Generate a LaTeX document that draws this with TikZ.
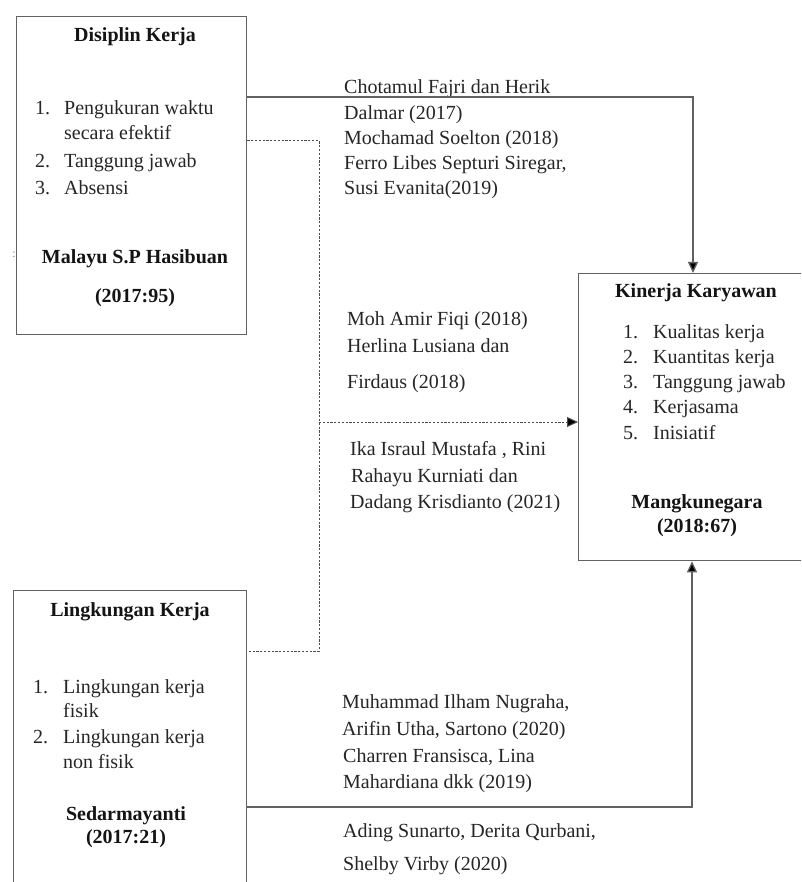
\documentclass[tikz,border=0pt]{standalone}
\usepackage{fontspec}
\setmainfont{Liberation Serif}
\usetikzlibrary{arrows.meta}
\begin{document}
\begin{tikzpicture}[x=1pt,y=1pt,
  frame/.style={draw=black!62, line width=1.3pt, inner sep=0pt, anchor=north west},
  txt/.style={anchor=base west, inner sep=0pt, text=black!85, font=\fontsize{20}{24}\selectfont},
  ttl/.style={anchor=base, inner sep=0pt, text=black!92, font=\fontsize{20}{24}\selectfont\bfseries},
  conn/.style={draw=black!62, line width=1.3pt},
  dconn/.style={draw=black!70, line width=1pt, dash pattern=on 2.2pt off 1.6pt},
  tip/.style={-{Triangle[length=11pt,width=10pt,fill=black]}}
]
\useasboundingbox (0,0) rectangle (801,-882);
\clip (0,0) rectangle (801,-882);
\fill[white] (0,0) rectangle (801,-882);

% boxes
\node[frame, minimum width=230pt, minimum height=318pt] (dis) at (16,-16) {};
\node[frame, minimum width=233pt, minimum height=320pt] (ling) at (13,-590) {};
\node[frame, minimum width=250pt, minimum height=287pt] (kin) at (578,-273) {};

% stray mark
\node[inner sep=0pt, text=black!50, font=\fontsize{12}{12}\selectfont] (mark) at (14,-255) {:};

% Disiplin Kerja
\node[ttl] (t1) at (135,-42) {Disiplin Kerja};
\node[txt] (d1n) at (35,-115) {1.};
\node[txt] (d1) at (64,-115) {Pengukuran waktu};
\node[txt] (d1b) at (64,-140) {secara efektif};
\node[txt] (d2n) at (35,-168) {2.};
\node[txt] (d2) at (64,-168) {Tanggung jawab};
\node[txt] (d3n) at (35,-195) {3.};
\node[txt] (d3) at (64,-195) {Absensi};
\node[ttl] (s1) at (135,-263) {Malayu S.P Hasibuan};
\node[ttl] (s1b) at (135,-302) {(2017:95)};

% Kinerja Karyawan
\node[ttl] (t3) at (696,-298) {Kinerja Karyawan};
\node[txt] (k1n) at (623,-338) {1.};
\node[txt] (k1) at (653,-338) {Kualitas kerja};
\node[txt] (k2n) at (623,-363) {2.};
\node[txt] (k2) at (653,-363) {Kuantitas kerja};
\node[txt] (k3n) at (623,-388) {3.};
\node[txt] (k3) at (653,-388) {Tanggung jawab};
\node[txt] (k4n) at (623,-413) {4.};
\node[txt] (k4) at (653,-413) {Kerjasama};
\node[txt] (k5n) at (623,-439) {5.};
\node[txt] (k5) at (653,-439) {Inisiatif};
\node[ttl] (s3) at (697,-508) {Mangkunegara};
\node[ttl] (s3b) at (697,-532) {(2018:67)};

% Lingkungan Kerja
\node[ttl] (t2) at (130,-616) {Lingkungan Kerja};
\node[txt] (l1n) at (33,-693) {1.};
\node[txt] (l1) at (63,-693) {Lingkungan kerja};
\node[txt] (l1b) at (63,-717) {fisik};
\node[txt] (l2n) at (33,-743) {2.};
\node[txt] (l2) at (63,-743) {Lingkungan kerja};
\node[txt] (l2b) at (63,-768) {non fisik};
\node[ttl] (s2) at (126,-820) {Sedarmayanti};
\node[ttl] (s2b) at (126,-843) {(2017:21)};

% references (top)
\node[txt] (r1) at (344,-94) {Chotamul Fajri dan Herik};
\node[txt] (r2) at (344,-120) {Dalmar (2017)};
\node[txt] (r3) at (344,-145) {Mochamad Soelton (2018)};
\node[txt] (r4) at (344,-170) {Ferro Libes Septuri Siregar,};
\node[txt] (r5) at (344,-195) {Susi Evanita(2019)};

% references (middle)
\node[txt] (m1) at (347,-325) {Moh Amir Fiqi (2018)};
\node[txt] (m2) at (347,-352) {Herlina Lusiana dan};
\node[txt] (m3) at (347,-388) {Firdaus (2018)};
\node[txt] (m4) at (350,-455) {Ika Israul Mustafa , Rini};
\node[txt] (m5) at (351,-482) {Rahayu Kurniati dan};
\node[txt] (m6) at (350,-508) {Dadang Krisdianto (2021)};

% references (bottom)
\node[txt] (b1) at (342,-708) {Muhammad Ilham Nugraha,};
\node[txt] (b2) at (342,-735) {Arifin Utha, Sartono (2020)};
\node[txt] (b3) at (343,-762) {Charren Fransisca, Lina};
\node[txt] (b4) at (343,-788) {Mahardiana dkk (2019)};
\node[txt] (b5) at (343,-837) {Ading Sunarto, Derita Qurbani,};
\node[txt] (b6) at (343,-870) {Shelby Virby (2020)};

% connector coordinates
\coordinate (c1) at (693,-97);
\coordinate (c2) at (692,-807);
\coordinate (e1) at (319,-141);
\coordinate (e2) at (319,-651);
\coordinate (e3) at (319,-422);

% solid connectors
\draw[conn, tip] (dis.east |- c1) -- (c1) -- (kin.north -| c1);
\draw[conn, tip] (ling.east |- c2) -- (c2) -- (kin.south -| c2);

% dashed connectors
\draw[dconn] (dis.east |- e1) -- (e1) -- (e2) -- (ling.east |- e2);
\draw[dconn, tip] (e3) -- (kin.west |- e3);
\end{tikzpicture}
\end{document}
